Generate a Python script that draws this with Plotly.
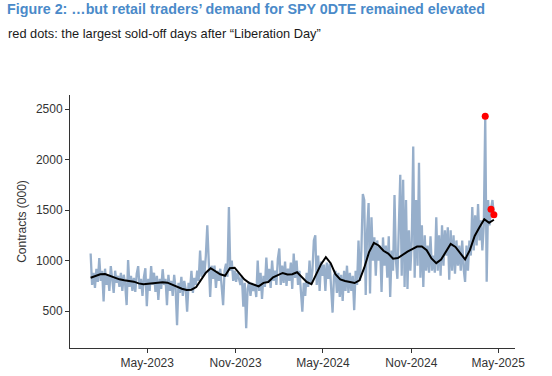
import pandas as pd
import plotly.graph_objects as go

# Daily-ish (3-day grid) SPY 0DTE retail contracts (000), Jan 3 2023 .. Apr 22 2025
volume = [
    1070, 760, 880, 730, 920, 790, 1025, 800, 900, 595,
    920, 760, 860, 700, 945, 820, 680, 900, 780, 850,
    740, 880, 700, 860, 760, 560, 1005, 740, 850, 700,
    830, 690, 870, 945, 720, 820, 650, 840, 925, 550,
    820, 700, 945, 760, 880, 690, 850, 610, 820, 720,
    915, 760, 820, 560, 860, 700, 800, 650, 860, 720,
    360, 780, 680, 840, 650, 800, 720, 495, 780, 700,
    900, 680, 830, 760, 900, 800, 1100, 840, 1000, 860,
    1050, 1350, 900, 640, 950, 820, 950, 730, 900, 800,
    920, 760, 560, 900, 970, 840, 1530, 900, 1000, 800,
    900, 790, 880, 820, 760, 850, 545, 780, 330, 720,
    790, 650, 780, 700, 760, 640, 1000, 700, 880, 620,
    850, 740, 1030, 780, 920, 730, 1000, 800, 900, 760,
    1020, 1120, 760, 950, 780, 990, 750, 920, 800, 980,
    720, 1070, 830, 1000, 760, 900, 700, 495, 780, 650,
    880, 740, 1000, 780, 900, 1200, 1250, 760, 1050, 700,
    990, 850, 960, 700, 980, 820, 970, 740, 485, 850,
    900, 680, 880, 640, 860, 600, 900, 700, 950, 680,
    880, 700, 850, 510, 900, 760, 1200, 800, 1100, 1660,
    1600, 660, 1300, 1570, 675, 1430, 1000, 1230, 850, 1200,
    1000, 1150, 690, 1230, 950, 1150, 830, 1240, 640, 1100,
    900, 1650, 1000, 820, 1300, 1850, 850, 1800, 740, 1600,
    720, 1300, 900, 1200, 2130, 830, 1600, 950, 1970, 830,
    1350, 740, 1250, 900, 1150, 880, 1240, 900, 1050, 880,
    1430, 900, 1250, 850, 1350, 950, 1300, 1050, 1330, 810,
    1300, 900, 1250, 870, 1200, 950, 1150, 900, 1200, 920,
    790, 1150, 900, 1200, 1050, 1530, 1100, 1450, 1150, 1560,
    1200, 1400, 1100, 1350, 2430, 790, 1600, 1350, 1510, 1600, 1455,
]
volume_dates = pd.date_range("2023-01-03", periods=len(volume), freq="3D")

# Moving average (10-day grid)
moving_avg = [
    830, 850, 865, 868, 850, 830, 815, 805, 800, 792,
    775, 766, 770, 775, 778, 785, 782, 760, 740, 722,
    710, 712, 738, 805, 880, 925, 895, 865, 850, 925,
    930, 875, 815, 780, 765, 745, 780, 788, 835, 860,
    878, 862, 865, 885, 840, 790, 768, 860, 965, 1035,
    975, 865, 815, 798, 788, 778, 805, 930, 1085, 1175,
    1150, 1098, 1070, 1020, 1025, 1060, 1090, 1115, 1140, 1140,
    1104, 1022, 975, 1010, 1090, 1165, 1135, 1070, 1012, 1104,
    1245, 1330, 1410, 1375, 1405,
]
ma_dates = pd.date_range("2023-01-03", periods=len(moving_avg), freq="10D")

# Largest sold-off days after "Liberation Day"
red_dates = ["2025-04-04", "2025-04-16", "2025-04-22"]

tick_dates = ["2023-05-01", "2023-11-01", "2024-05-01", "2024-11-01", "2025-05-01"]
tick_labels = ["May-2023", "Nov-2023", "May-2024", "Nov-2024", "May-2025"]
y_ticks = [500, 1000, 1500, 2000, 2500]

series = pd.Series(volume, index=volume_dates)
red_idx = pd.to_datetime(red_dates)
red_vals = [series[d] for d in red_idx]

fig = go.Figure()
fig.add_trace(go.Scatter(x=volume_dates, y=volume, mode="lines",
                         line=dict(color="#97afcb", width=2.3), hoverinfo="skip"))
fig.add_trace(go.Scatter(x=ma_dates, y=moving_avg, mode="lines",
                         line=dict(color="black", width=2), hoverinfo="skip"))
fig.add_trace(go.Scatter(x=red_idx, y=red_vals, mode="markers",
                         marker=dict(color="#ff0000", size=7), hoverinfo="skip"))

L, R, T, B = 70, 37, 95, 28
W, H = 552, 376
pw, ph = W - L - R, H - T - B

fig.update_layout(
    width=W, height=H,
    margin=dict(l=L, r=R, t=T, b=B),
    plot_bgcolor="white", paper_bgcolor="white",
    showlegend=False,
    font=dict(family="Liberation Sans, Arial, sans-serif", size=12, color="#333333"),
    xaxis=dict(
        range=["2022-11-21", "2025-06-05"],
        tickvals=tick_dates, ticktext=tick_labels,
        showgrid=False, zeroline=False, automargin=False,
        showline=True, linecolor="#333333", linewidth=1,
        ticks="outside", ticklen=4, tickcolor="#333333",
        tickfont=dict(size=12, color="#333333"),
    ),
    yaxis=dict(
        range=[135, 2640],
        tickvals=y_ticks, automargin=False,
        showgrid=False, zeroline=False,
        showline=True, linecolor="#333333", linewidth=1,
        ticks="outside", ticklen=4, tickcolor="#333333",
        tickfont=dict(size=12, color="#333333"),
        title=dict(text="Contracts (000)", font=dict(size=12, color="#333333"), standoff=6),
    ),
    annotations=[
        dict(text="<b>Figure 2: …but retail traders’ demand for SPY 0DTE remained elevated</b>",
             xref="paper", yref="paper", x=(5 - L) / pw, y=(H - B - 8.5) / ph,
             xanchor="left", yanchor="middle", showarrow=False,
             font=dict(size=14.3, color="#4a8ac9", family="Liberation Sans, Arial, sans-serif")),
        dict(text="red dots: the largest sold-off days after “Liberation Day”",
             xref="paper", yref="paper", x=(6 - L) / pw, y=(H - B - 33.5) / ph,
             xanchor="left", yanchor="middle", showarrow=False,
             font=dict(size=12.8, color="#1a1a1a", family="Liberation Sans, Arial, sans-serif")),
    ],
)

fig.write_html("out.html", config={"displayModeBar": False},
               post_script="document.body.style.margin='0';")
